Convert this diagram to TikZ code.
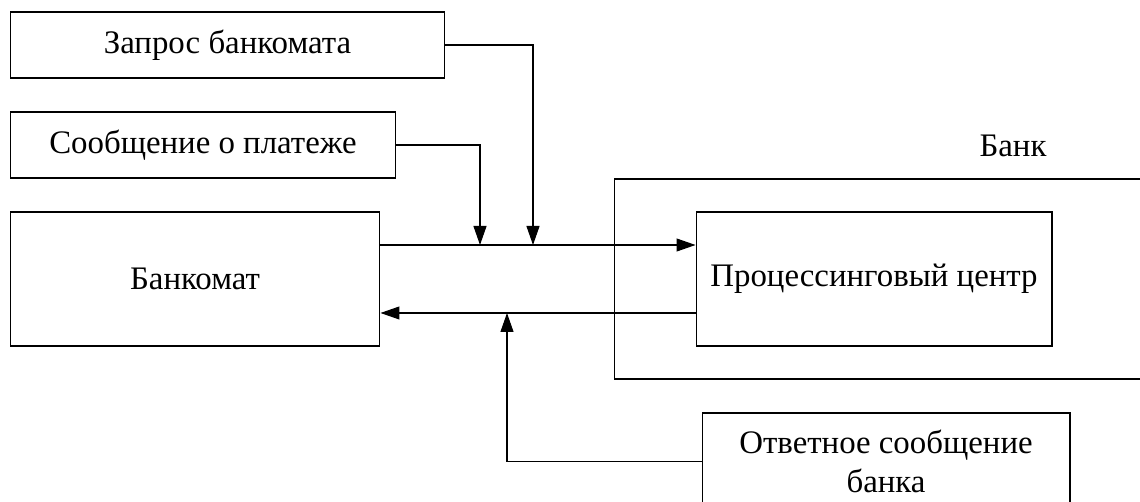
\documentclass[tikz,border=0pt]{standalone}
\usepackage{fontspec}
\setmainfont{Liberation Serif}
\usetikzlibrary{arrows.meta,positioning}

\begin{document}
\begin{tikzpicture}[x=0.02cm,y=-0.02cm,>={Triangle[length=0.38cm,width=0.26cm]},line width=0.6pt,font=\fontsize{18.7}{22.2}\selectfont]
  \useasboundingbox (0,0) rectangle (1140,502);
\tikzset{blok/.style={draw,inner sep=0pt,minimum height=1.32cm}}
\tikzset{bigblok/.style={blok,minimum height=2.68cm}}
\tikzset{link/.style={->}}
  \node[blok,minimum width=8.7cm]     (zapros)   at (227.5,45)  {Запрос банкомата};
  \node[blok,minimum width=7.72cm]    (soobsh)   at (203,145)   {Сообщение о платеже};
  \node[bigblok,minimum width=7.4cm]  (bankomat) at (195,279)   {Банкомат};
  \node[draw,minimum width=10.92cm,minimum height=4cm] (bank) at (887,279) {};
  \node                               (banklbl)  at (1013,146)  {Банк};
  \node[bigblok,minimum width=7.12cm] (proc)     at (874,279)   {Процессинговый центр};
  \node[blok,minimum width=7.36cm,minimum height=1.94cm,align=center] (otvet) at (886,461.5) {Ответное сообщение\\банка};

  \coordinate (in1)  at (480,245);
  \coordinate (in2)  at (533,245);
  \coordinate (out1) at (507,313);

  \draw[link] ([yshift=0.68cm]bankomat.east) -- ([yshift=0.68cm]proc.west);
  \draw[link] ([yshift=-0.68cm]proc.west) -- ([yshift=-0.68cm]bankomat.east);
  \draw[link] (soobsh.east) -| (in1);
  \draw[link] (zapros.east) -| (in2);
  \draw[link] (otvet.west) -| (out1);
\end{tikzpicture}
\end{document}
